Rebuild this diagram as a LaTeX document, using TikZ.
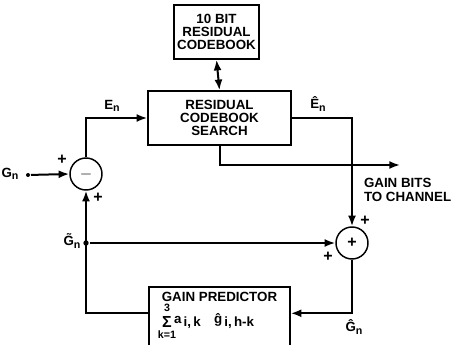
\documentclass[tikz,border=0pt]{standalone}
\usepackage{fontspec}
\setsansfont{Liberation Sans}
\usetikzlibrary{arrows.meta,calc}

\tikzset{every picture/.style={line width=1.5pt}}
\tikzset{
blockbox/.style={draw, line width=1.1pt, rectangle, align=center, inner sep=0pt, font=\sffamily\bfseries\fontsize{10}{10}\selectfont},
sumnode/.style={draw, line width=1.1pt, circle, minimum size=24pt, inner sep=0pt, font=\sffamily\bfseries\large},
signlbl/.style={inner sep=0pt, font=\sffamily\bfseries\large},
varlbl/.style={inner sep=0pt, font=\sffamily\bfseries\fontsize{10}{10}\selectfont},
flow/.style={-{Latex[length=8pt,width=6pt]}},
tapdot/.style={circle, fill, inner sep=0pt, minimum size=4pt}}
\newcommand{\sv}[2]{#1\raisebox{-2pt}{\fontsize{8}{8}\selectfont #2}}

\begin{document}
\begin{tikzpicture}[x=0.75pt,y=0.75pt,yscale=-1,xscale=1]
\clip (0,0) rectangle (452,345);
\useasboundingbox (0,0) rectangle (452,345);

%Blocks
\node [blockbox, minimum width=63.75pt, minimum height=40.5pt] (book) at (216.5,32) {10 BIT\\RESIDUAL\\CODEBOOK};
\node [blockbox, minimum width=107.25pt, minimum height=40.5pt] (search) at (219.5,118) {RESIDUAL\\CODEBOOK\\SEARCH};
\node [blockbox, minimum width=105.75pt, minimum height=60pt] (pred) at (219.5,327) {};
\node [sumnode] (sub) at (86,174) {$-$};
\node [sumnode] (add) at (352,243) {+};

%Points
\node [tapdot, minimum size=3pt] (gin) at (28,175) {};
\node [tapdot] (tap) at (86,243) {};
\coordinate (chan) at (400,165);
\coordinate (predin) at ($(pred.north east)+(0,27)$);
\coordinate (predout) at ($(pred.north west)+(0,27)$);

%Connectors
\draw [{Latex[length=8pt,width=6pt]}-{Latex[length=8pt,width=6pt]}] (book.south) -- (search.north);
\draw [flow] (gin) -- (sub.west);
\draw [flow] (sub.north) |- (search.west);
\draw [flow] (search.east) -| (add.north);
\draw [flow] (search.south) |- (chan);
\draw [flow] (tap) -- (add.west);
\draw [flow] (add.south) |- (predin);
\draw [flow] (predout) -| (sub.south);

%Predictor text
\node [varlbl] (predtxt) at (219.5,297) {GAIN PREDICTOR};
\node [varlbl, font=\sffamily\bfseries\large] (sigma) at (167,322) {Σ};
\node [varlbl, font=\sffamily\bfseries\footnotesize] (supk) at (167,308) {3};
\node [varlbl, font=\sffamily\bfseries\footnotesize] (subk) at (167,335) {k=1};
\node [varlbl, anchor=west] (terms) at (173,321) {a\raisebox{-2pt}{\,i,\,k}\quad \^{g}\raisebox{-2pt}{\,i,\,h-k}};

% Text Node
\node [varlbl] (lgn) at (10,174) {\sv{G}{n}};
\node [varlbl] (len) at (112,106) {\sv{E}{n}};
\node [varlbl] (lehat) at (318,104) {\sv{\^{E}}{n}};
\node [varlbl] (lgtil) at (72,241) {\sv{\~{G}}{n}};
\node [varlbl] (lghat) at (354,327) {\sv{\^{G}}{n}};
\node [anchor=west, align=left, inner sep=0pt, font=\sffamily\bfseries\fontsize{10}{10}\selectfont] (lchan) at (363,190) {GAIN BITS\\TO CHANNEL};
\node [signlbl] (p1) at (62,160) {+};
\node [signlbl] (p2) at (98,198) {+};
\node [signlbl] (p3) at (365,221) {+};
\node [signlbl] (p4) at (328,257) {+};

\end{tikzpicture}
\end{document}
